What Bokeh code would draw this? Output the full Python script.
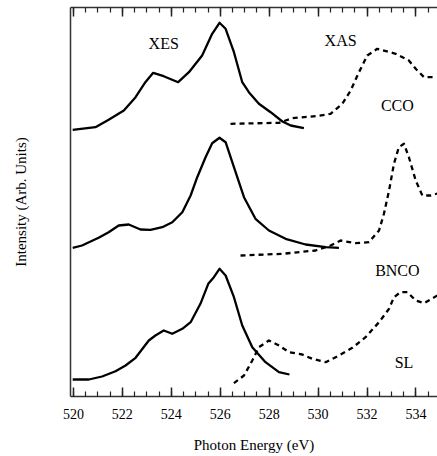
from bokeh.plotting import figure
from bokeh.models import Range1d, LinearAxis, SingleIntervalTicker, FixedTicker
from bokeh.core.properties import value
from bokeh.embed import file_html
from bokeh.resources import INLINE

# Photon energy (eV) and intensity (arb. units, offset stacked)
cco_xes_e = [519.97, 520.9, 521.44, 522.06, 522.54, 522.94, 523.26, 523.69, 524.28, 524.72,
             525.26, 525.67, 525.97, 526.22, 526.56, 526.9, 527.17, 527.58, 528.06, 528.54,
             528.88, 529.42]
cco_xes_i = [266.7, 269.3, 276.7, 286, 299.3, 314.3, 323.7, 320.3, 314.3, 324.3,
             341, 362.7, 373.7, 367.7, 344.3, 314.3, 304.3, 292.7, 284.3, 275,
             271, 268.3]
cco_xas_e = [526.42, 528.4, 528.94, 529.9, 530.51, 530.99, 531.33, 531.67, 532.01, 532.42,
             533.17, 533.71, 533.99, 534.33, 534.81]
cco_xas_i = [272.7, 273.7, 278.3, 280.3, 282.7, 292.7, 306, 324.3, 341, 347.7,
             342.7, 336, 327.7, 319.3, 319.3]

bnco_xes_e = [519.97, 520.35, 521.03, 521.44, 521.85, 522.26, 522.74, 523.15, 523.63, 524.04,
              524.45, 524.79, 525.06, 525.4, 525.67, 525.97, 526.22, 526.56, 526.97, 527.44,
              527.99, 528.67, 529.49, 530.31, 530.85]
bnco_xes_i = [148.7, 151, 158.7, 164.3, 171, 172, 167, 166.7, 169.3, 174.3,
              184.3, 201, 219.3, 239.3, 253.3, 258.7, 254.3, 229.3, 199.3, 177.7,
              166, 157.7, 152, 149.3, 148.7]
bnco_xas_e = [526.83, 528.54, 529.9, 530.51, 530.92, 531.53, 532.08, 532.49, 532.69, 532.9,
              533.1, 533.3, 533.51, 533.71, 533.99, 534.26, 534.6, 534.88]
bnco_xas_i = [141, 142.7, 146, 151, 156, 153.3, 154.3, 166, 182.7, 206,
              232.7, 249.3, 252.7, 239.3, 216, 201, 201, 203]

sl_xes_e = [519.97, 520.63, 521.17, 521.72, 522.13, 522.54, 523.08, 523.35, 523.69, 524.04,
            524.45, 524.79, 525.19, 525.51, 525.74, 525.97, 526.22, 526.56, 526.9, 527.31,
            527.85, 528.4, 528.83]
sl_xes_i = [17, 17, 20, 25.3, 31, 38.7, 56, 61, 66, 62.7,
            67.7, 74.3, 92.7, 112.7, 119.3, 127.7, 121, 99.3, 71, 49.3,
            34.3, 24.3, 22]
sl_xas_e = [526.56, 526.97, 527.31, 527.58, 527.99, 528.4, 528.81, 529.35, 529.76, 530.31,
            530.85, 531.4, 531.94, 532.49, 532.9, 533.1, 533.37, 533.65, 533.99, 534.33, 534.88]
sl_xas_i = [13.3, 21, 36, 49.3, 56, 51, 44.3, 42, 37.7, 34.3,
            41, 48.7, 59.3, 74.3, 87.7, 99.3, 104.3, 104.3, 96, 93.3, 101]

label_texts = ["XES", "XAS", "CCO", "BNCO", "SL"]
label_x = [523.69, 530.92, 533.24, 533.24, 533.51]
label_y = [352.7, 356, 291, 126, 34.3]

x_ticks_interval = 2

SERIF = "Liberation Serif"

p = figure(width=437, height=456, output_backend="svg", toolbar_location=None,
           x_range=Range1d(519.88, 534.88), y_range=Range1d(0, 389),
           x_axis_type=None, y_axis_type=None,
           min_border_left=70, min_border_right=0, min_border_top=7, min_border_bottom=60)
p.outline_line_color = None
p.xgrid.visible = False
p.ygrid.visible = False
p.background_fill_color = "white"
p.border_fill_color = "white"

def make_xaxis(show_labels):
    ax = LinearAxis(ticker=SingleIntervalTicker(interval=x_ticks_interval, num_minor_ticks=4))
    ax.axis_line_color = "#333333"
    ax.axis_line_width = 1.5
    ax.major_tick_line_color = "#222222"
    ax.minor_tick_line_color = "#222222"
    ax.major_tick_line_width = 1.5
    ax.minor_tick_line_width = 1.2
    ax.major_tick_in = 9
    ax.major_tick_out = 0
    ax.minor_tick_in = 5
    ax.minor_tick_out = 0
    if show_labels:
        ax.major_label_text_font = SERIF
        ax.major_label_text_font_size = "14px"
        ax.major_label_text_color = "black"
        ax.major_label_standoff = 12
        ax.axis_label = "Photon Energy (eV)"
        ax.axis_label_text_font = SERIF
        ax.axis_label_text_font_size = "15px"
        ax.axis_label_text_font_style = "normal"
        ax.axis_label_text_color = "black"
        ax.axis_label_standoff = 15
    else:
        ax.major_label_text_font_size = "0px"
        ax.major_label_text_color = None
        ax.major_label_text_alpha = 0
        ax.major_label_standoff = 0
    return ax

p.add_layout(make_xaxis(True), "below")
p.add_layout(make_xaxis(False), "above")

yax = LinearAxis(ticker=FixedTicker(ticks=[]))
yax.axis_line_color = "#333333"
yax.axis_line_width = 1.5
yax.major_tick_in = 0
yax.major_tick_out = 0
yax.minor_tick_in = 0
yax.minor_tick_out = 0
yax.axis_label = "Intensity (Arb. Units)"
yax.axis_label_text_font = SERIF
yax.axis_label_text_font_size = "15px"
yax.axis_label_text_font_style = "normal"
yax.axis_label_text_color = "black"
yax.axis_label_standoff = 42
p.add_layout(yax, "left")

for xs, ys in [(cco_xes_e, cco_xes_i), (bnco_xes_e, bnco_xes_i), (sl_xes_e, sl_xes_i)]:
    p.line(xs, ys, line_color="black", line_width=2.3, line_join="round")
for xs, ys in [(cco_xas_e, cco_xas_i), (bnco_xas_e, bnco_xas_i), (sl_xas_e, sl_xas_i)]:
    p.line(xs, ys, line_color="black", line_width=2.3, line_dash="5 4", line_join="round")

p.text(x=label_x, y=label_y, text=label_texts, text_font=value(SERIF),
       text_font_size="16px", text_align="center", text_baseline="middle", text_color="black")

open("out.html", "w").write(file_html(p, INLINE))
